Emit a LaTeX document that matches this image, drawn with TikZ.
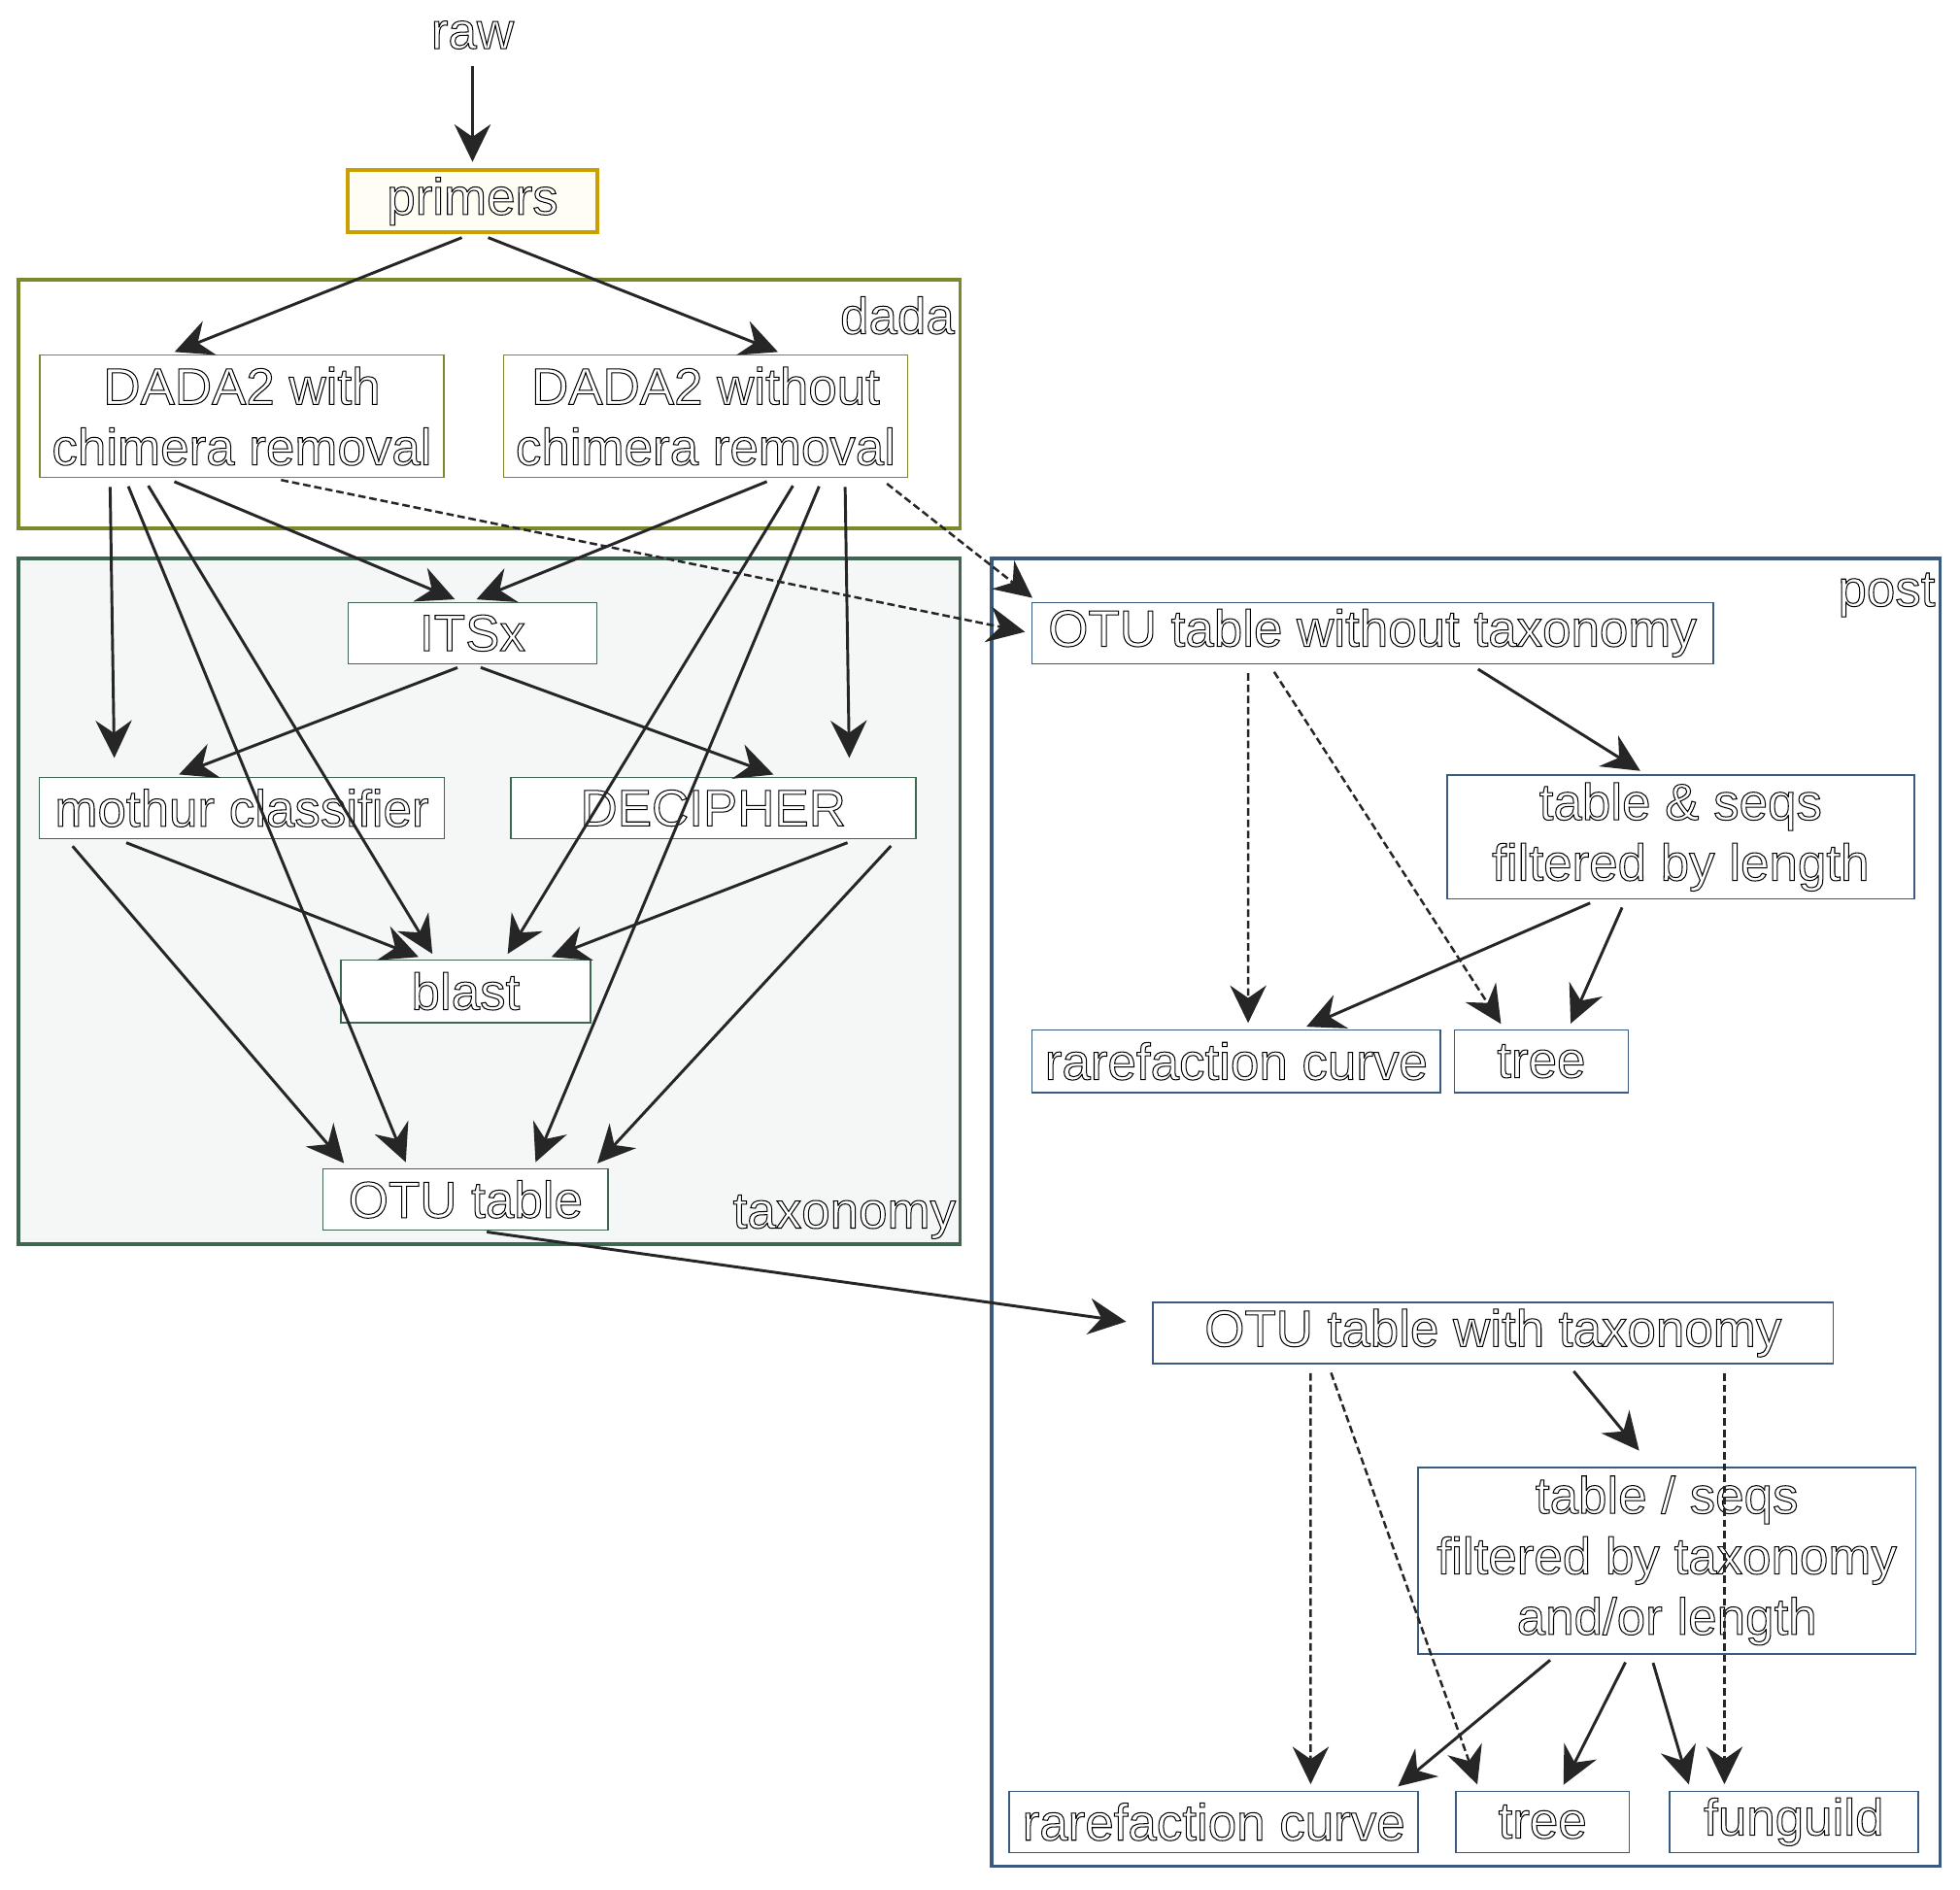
\documentclass[tikz,border=0pt]{standalone}
\usepackage{fontspec}
\setmainfont{Liberation Sans}
\usetikzlibrary{arrows.meta,positioning}

\definecolor{primgold}{HTML}{C9A000}
\definecolor{primfill}{HTML}{FFFDF4}
\definecolor{dadaolive}{HTML}{7A8A2A}
\definecolor{taxgreen}{HTML}{3E6650}
\definecolor{taxfill}{HTML}{F5F7F6}
\definecolor{postblue}{HTML}{3B5A80}
\definecolor{edgegray}{HTML}{262626}

% hollow letters, as in the rendered graph
\newcommand{\outlon}{\special{pdf:literal direct 2 Tr 0.45 w 1 1 1 rg 0 0 0 RG}}
\newcommand{\outloff}{\special{pdf:literal direct 0 Tr 0 0 0 rg}}

\begin{document}
\begin{tikzpicture}[on grid,node distance=2cm,
    font=\fontsize{23.4pt}{27.6pt}\selectfont,
    every node/.style={execute at begin node=\outlon,execute at end node=\outloff},
    box/.style={draw=#1,fill=white,line width=0.7pt,inner sep=0pt,align=center},
    cluster/.style={draw=#1,line width=1.7pt},
    flow/.style={->,color=edgegray,line width=1.3pt,shorten <=0.14cm,shorten >=0.1cm},
    opt/.style={line width=1.1pt,dash pattern=on 0.12cm off 0.06cm},
    >={Stealth[length=0.6cm,width=0.58cm,inset=0.2cm]}]
      \useasboundingbox (0,0) rectangle (31.36,-30.24);

      % clusters
      \draw[cluster=dadaolive] (0.3,-4.48) rectangle (15.36,-8.46);
      \draw[cluster=taxgreen,fill=taxfill] (0.3,-8.94) rectangle (15.36,-19.9);
      \draw[cluster=postblue] (15.86,-8.94) rectangle (31.04,-29.86);
      \node[anchor=base east,inner sep=0pt] (dadalbl) at (15.28,-5.34) {dada};
      \node[anchor=base east,inner sep=0pt] (taxlbl)  at (15.3,-19.65) {taxonomy};
      \node[anchor=base east,inner sep=0pt] (postlbl) at (30.97,-9.7) {post};

      \node (raw) at (7.56,-0.56) {raw};
      \node[box=primgold,fill=primfill,line width=1.7pt,minimum width=4cm,minimum height=1cm]
            (primers) [below=2.66cm of raw] {primers};
      \node[box=dadaolive,minimum width=6.46cm,minimum height=1.96cm]
            (dadachim) [below left=3.44cm and 3.69cm of primers] {DADA2 with\\chimera removal};
      \node[box=dadaolive,minimum width=6.46cm,minimum height=1.96cm]
            (dadanochim) [right=7.42cm of dadachim] {DADA2 without\\chimera removal};

      \node[box=taxgreen,minimum width=3.98cm,minimum height=0.98cm] (itsx) [below=6.91cm of primers] {ITSx};
      \node[box=taxgreen,minimum width=6.48cm,minimum height=0.98cm] (mothur) [below=6.27cm of dadachim] {mothur classifier};
      \node[box=taxgreen,minimum width=6.48cm,minimum height=0.98cm] (decipher) [right=7.54cm of mothur] {DECIPHER};
      \node[box=taxgreen,minimum width=4cm,minimum height=1cm] (blast) [below left=5.73cm and 0.11cm of itsx] {blast};
      \node[box=taxgreen,minimum width=4.56cm,minimum height=0.98cm] (otutab) [below=3.33cm of blast] {OTU table};

      \node[box=postblue,minimum width=10.9cm,minimum height=0.98cm] (otunotax) [right=14.4cm of itsx] {OTU table without taxonomy};
      \node[box=postblue,minimum width=7.48cm,minimum height=1.98cm]
            (lenfilt) [below right=3.26cm and 4.93cm of otunotax] {table \& seqs\\filtered by length};
      \node[box=postblue,minimum width=6.54cm,minimum height=1cm] (rare1) [below left=6.85cm and 2.18cm of otunotax] {rarefaction curve};
      \node[box=postblue,minimum width=2.78cm,minimum height=1cm] (tree1) [right=4.88cm of rare1] {tree};

      \node[box=postblue,minimum width=10.88cm,minimum height=0.98cm] (otutax) [below right=11.2cm and 1.93cm of otunotax] {OTU table with taxonomy};
      \node[box=postblue,minimum width=7.96cm,minimum height=2.98cm]
            (taxfilt) [below right=3.64cm and 2.78cm of otutax] {table / seqs\\filtered by taxonomy\\and/or length};
      \node[box=postblue,minimum width=6.54cm,minimum height=0.98cm] (rare2) [below left=7.82cm and 4.47cm of otutax] {rarefaction curve};
      \node[box=postblue,minimum width=2.78cm,minimum height=0.98cm] (tree2) [right=5.26cm of rare2] {tree};
      \node[box=postblue,minimum width=3.98cm,minimum height=0.98cm] (funguild) [right=4.02cm of tree2] {funguild};

      \path[flow] (raw) edge (primers)
                ([xshift=-0.04cm]primers.south) edge ([xshift=-1.17cm]dadachim.north)
                ([xshift=0.12cm]primers.south)  edge ([xshift=1.25cm]dadanochim.north)
                ([xshift=-2.11cm]dadachim.south) edge ([xshift=-2.04cm,yshift=0.2cm]mothur.north)
                ([xshift=-1.87cm]dadachim.south) edge ([xshift=-0.92cm]otutab.north)
                ([xshift=-1.57cm]dadachim.south) edge ([xshift=-0.48cm]blast.north)
                ([xshift=-1.21cm]dadachim.south) edge ([xshift=-0.19cm]itsx.north)
                ([xshift=0.49cm]dadachim.south)  edge[opt] (otunotax.west)
                ([xshift=1.11cm]dadanochim.south) edge ([xshift=-0.03cm]itsx.north)
                ([xshift=1.47cm]dadanochim.south) edge ([xshift=0.62cm]blast.north)
                ([xshift=1.87cm]dadanochim.south) edge ([xshift=1.08cm]otutab.north)
                ([xshift=2.23cm]dadanochim.south) edge ([xshift=2.18cm,yshift=0.2cm]decipher.north)
                ([xshift=2.79cm]dadanochim.south) edge[opt] ([xshift=0.1cm]otunotax.north west)
                ([xshift=-0.11cm]itsx.south) edge ([xshift=-1.1cm]mothur.north)
                (itsx.south) edge ([xshift=1.06cm]decipher.north)
                ([xshift=-1.98cm]mothur.south) edge ([xshift=-0.66cm]blast.north)
                ([xshift=-2.8cm]mothur.south)  edge ([xshift=-1.88cm]otutab.north)
                ([xshift=2.28cm]decipher.south) edge ([xshift=1.28cm]blast.north)
                ([xshift=2.94cm]decipher.south) edge ([xshift=2.04cm]otutab.north)
                ([xshift=0.2cm]otutab.south) edge ([xshift=-0.32cm,yshift=0.17cm]otutax.west)
                ([xshift=-1.99cm]otunotax.south) edge[opt] ([xshift=0.19cm]rare1.north)
                ([xshift=-1.65cm]otunotax.south) edge[opt] ([xshift=-0.59cm]tree1.north)
                ([xshift=1.57cm]otunotax.south)  edge ([xshift=-0.56cm]lenfilt.north)
                ([xshift=-1.32cm]lenfilt.south) edge ([xshift=1.03cm]rare1.north)
                ([xshift=-0.88cm]lenfilt.south) edge ([xshift=0.43cm]tree1.north)
                ([xshift=-2.92cm]otutax.south) edge[opt] ([xshift=1.55cm]rare2.north)
                ([xshift=-2.64cm]otutax.south) edge[opt] ([xshift=-1.01cm]tree2.north)
                ([xshift=1.2cm]otutax.south)   edge ([xshift=-0.38cm,yshift=0.18cm]taxfilt.north)
                ([xshift=3.7cm]otutax.south)   edge[opt] ([xshift=-1.11cm]funguild.north)
                ([xshift=-1.76cm]taxfilt.south) edge ([xshift=2.87cm]rare2.north)
                ([xshift=-0.6cm]taxfilt.south)  edge ([xshift=0.29cm]tree2.north)
                ([xshift=-0.26cm]taxfilt.south) edge ([xshift=-1.65cm]funguild.north);
    \end{tikzpicture}
\end{document}
